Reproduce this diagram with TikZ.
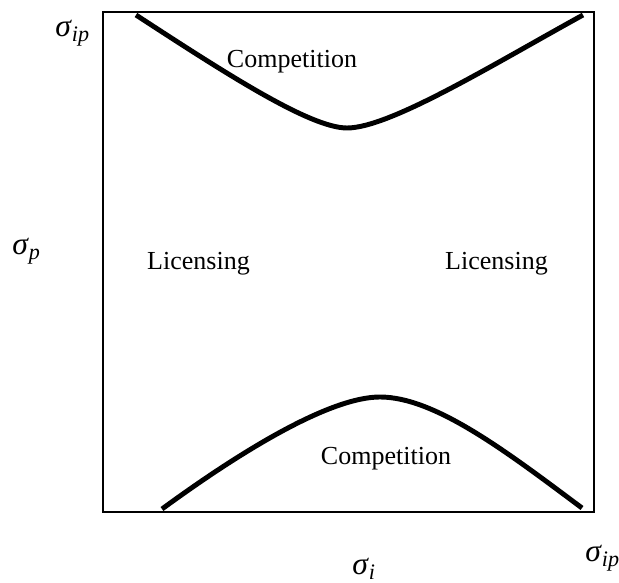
\documentclass[tikz,border=0pt]{standalone}
\usepackage{fontspec}
\setmainfont{Liberation Serif}
\newcommand{\sgm}[1]{{\fontsize{18}{20}\selectfont\textit{σ}\textsubscript{\textit{#1}}}}
\tikzset{
    region/.style={anchor=base, font=\fontsize{14.8}{17}\selectfont},
    axlabel/.style={anchor=base west, inner sep=0pt},
    frontier/.style={line width=2.8pt}
}
\begin{document}
\begin{tikzpicture}
    \useasboundingbox (0,0) rectangle (12.38,11.66);

    % Frame
    \draw[line width=0.9pt] (2.06,1.42) rectangle (11.88,11.42);

    % Upper frontier
    \draw[frontier] (2.72,11.36) .. controls (4.5,10.2) and (6.2,9.10) .. (6.94,9.10)
        .. controls (7.8,9.10) and (9.86,10.37) .. (11.66,11.36);

    % Lower frontier
    \draw[frontier] (3.24,1.48) .. controls (4.84,2.65) and (6.6,3.72) .. (7.6,3.72)
        .. controls (8.7,3.72) and (10.14,2.62) .. (11.64,1.50);

    % Regions
    \node[region] (compTop) at (5.84,10.30) {Competition};
    \node[region] (compBot) at (7.72,2.36) {Competition};
    \node[region] (licLeft) at (3.97,6.26) {Licensing};
    \node[region] (licRight) at (9.93,6.26) {Licensing};

    % Axis labels
    \node[axlabel] (sipTop) at (1.10,10.92) {\sgm{ip}};
    \node[axlabel] (sp) at (0.24,6.56) {\sgm{p}};
    \node[axlabel] (sipBot) at (11.70,0.42) {\sgm{ip}};
    \node[axlabel] (si) at (7.04,0.16) {\sgm{i}};
\end{tikzpicture}
\end{document}
